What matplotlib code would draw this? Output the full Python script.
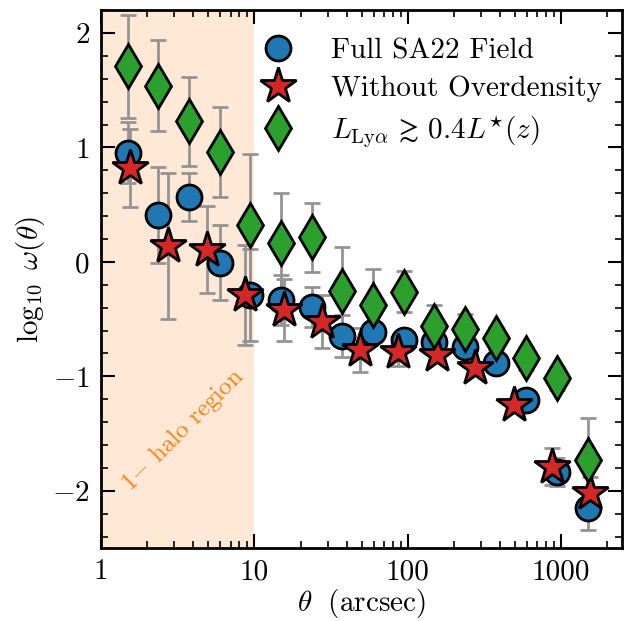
import numpy as np
import matplotlib
matplotlib.use("Agg")
import matplotlib.pyplot as plt
from matplotlib.lines import Line2D
from matplotlib.ticker import FixedLocator, FixedFormatter, MultipleLocator, LogLocator, NullFormatter

plt.rcParams['font.family'] = 'serif'
plt.rcParams['font.serif'] = ['cmr10', 'DejaVu Serif']
plt.rcParams['mathtext.fontset'] = 'cm'
plt.rcParams['axes.formatter.use_mathtext'] = True

# full field (blue circles)
theta_full = [1.49, 2.37, 3.75, 5.94, 9.42, 14.9, 23.7, 37.5, 59.4, 94.2, 149, 237, 375, 594, 942, 1490]
w_full = [0.956, 0.41, 0.571, -0.006, -0.29, -0.33, -0.39, -0.647, -0.61, -0.68, -0.70, -0.746, -0.886, -1.207, -1.835, -2.155]
err_full = [0.27, 0.42, 0.21, 0.33, 0.40, 0.22, 0.175, 0.185, 0.07, 0.06, 0.05, 0.05, 0.05, 0.05, 0.12, 0.185]

# without overdensity (red stars)
theta_noover = [1.55, 2.75, 4.9, 8.7, 15.5, 27.5, 49, 87, 155, 275, 490, 870, 1550]
w_noover = [0.82, 0.14, 0.105, -0.289, -0.42, -0.522, -0.77, -0.785, -0.814, -0.93, -1.25, -1.79, -2.02]
err_noover = [0.34, 0.635, 0.38, 0.44, 0.27, 0.23, 0.19, 0.125, 0.05, 0.05, 0.05, 0.16, 0.14]

# bright LAEs (green diamonds)
theta_bright = theta_full
w_bright = [1.709, 1.54, 1.228, 0.96, 0.324, 0.164, 0.216, -0.254, -0.376, -0.262, -0.563, -0.589, -0.668, -0.843, -1.018, -1.735]
err_bright = [0.45, 0.40, 0.39, 0.39, 0.62, 0.44, 0.30, 0.38, 0.31, 0.18, 0.19, 0.135, 0.10, 0.10, 0.10, 0.37]

labels = ['Full SA22 Field', 'Without Overdensity', r'$L_{\rm Ly\alpha}\,\gtrsim\,0.4L^{\star}(z)$']

fig = plt.figure(figsize=(6.31, 6.21), dpi=100)
ax = fig.add_axes([0.160, 0.1176, 0.826, 0.866])

ax.axvspan(1, 10, color='C1', alpha=0.17, lw=0, zorder=0)
ax.text(3.4, -1.47, r'1$-$ halo region', color='C1', rotation=45, fontsize=18,
        ha='center', va='center')

ekw = dict(ls='none', ecolor='0.58', elinewidth=2, capsize=6, capthick=2,
           markeredgecolor='k', markeredgewidth=2)
ax.errorbar(theta_full, w_full, yerr=err_full, marker='o', ms=18, color='C0', **ekw)
ax.errorbar(theta_noover, w_noover, yerr=err_noover, marker='*', ms=27, color='C3', **ekw)
ax.errorbar(theta_bright, w_bright, yerr=err_bright, marker='d', ms=22, color='C2', **ekw)

handles = [Line2D([], [], ls='none', marker='o', ms=18, color='C0', mec='k', mew=2),
           Line2D([], [], ls='none', marker='*', ms=27, color='C3', mec='k', mew=2),
           Line2D([], [], ls='none', marker='d', ms=22, color='C2', mec='k', mew=2)]
ax.legend(handles, labels, loc='upper left', bbox_to_anchor=(0.262, 0.997), frameon=False,
          fontsize=21, handlelength=1.0, handletextpad=1.3, labelspacing=0.38)

ax.set_xscale('log')
ax.set_xlim(1, 2500)
ax.set_ylim(-2.5, 2.2)
ax.xaxis.set_major_locator(FixedLocator([1, 10, 100, 1000]))
ax.xaxis.set_major_formatter(FixedFormatter(['1', '10', '100', '1000']))
ax.xaxis.set_minor_locator(LogLocator(subs=np.arange(2, 10)))
ax.xaxis.set_minor_formatter(NullFormatter())
ax.yaxis.set_major_locator(MultipleLocator(1))
ax.yaxis.set_minor_locator(MultipleLocator(0.2))
ax.tick_params(which='both', direction='in', top=True, right=True, labelsize=21)
ax.tick_params(which='major', length=10, width=1.5, pad=8)
ax.tick_params(which='minor', length=5, width=1.2)
for s in ax.spines.values():
    s.set_linewidth(2)

ax.set_xlabel(r'$\theta\ \ \mathrm{(arcsec)}$', fontsize=21, labelpad=1)
ax.set_ylabel(r'$\log_{10}\ \omega(\theta)$', fontsize=21)

fig.savefig('out.png', dpi=100)
